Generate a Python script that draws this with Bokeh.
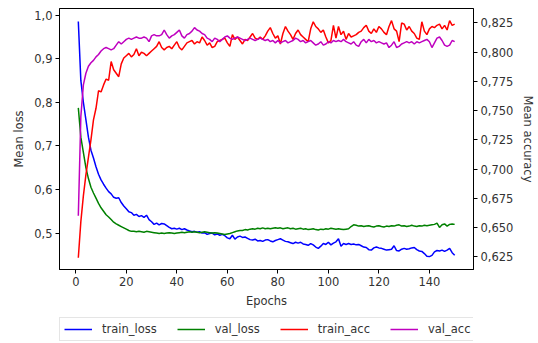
from bokeh.plotting import figure
from bokeh.layouts import column
from bokeh.models import (Range1d, LinearAxis, FixedTicker, CustomJSTickFormatter,
                          Legend, LegendItem)
from bokeh.embed import file_html
from bokeh.resources import INLINE

epochs = list(range(1, 151))

train_loss = [
    0.985, 0.850, 0.800, 0.760, 0.720, 0.690, 0.672, 0.652, 0.635, 0.622,
    0.612, 0.603, 0.595, 0.590, 0.582, 0.580, 0.581, 0.570, 0.562, 0.556,
    0.549, 0.547, 0.541, 0.543, 0.538, 0.540, 0.536, 0.541, 0.531, 0.526,
    0.520, 0.523, 0.519, 0.522, 0.521, 0.517, 0.513, 0.510, 0.511, 0.509,
    0.511, 0.508, 0.510, 0.507, 0.505, 0.503, 0.504, 0.502, 0.503, 0.500,
    0.501, 0.497, 0.499, 0.500, 0.496, 0.498, 0.495, 0.497, 0.494, 0.489,
    0.487, 0.495, 0.486, 0.491, 0.493, 0.490, 0.491, 0.488, 0.485, 0.484,
    0.486, 0.482, 0.483, 0.481, 0.484, 0.485, 0.482, 0.480, 0.483, 0.485,
    0.487, 0.484, 0.481, 0.480, 0.478, 0.476, 0.479, 0.477, 0.479, 0.475,
    0.474, 0.472, 0.476, 0.473, 0.468, 0.465, 0.470, 0.476, 0.474, 0.479,
    0.473, 0.477, 0.480, 0.487, 0.470, 0.476, 0.474, 0.476, 0.474, 0.475,
    0.473, 0.474, 0.471, 0.468, 0.467, 0.462, 0.461, 0.466, 0.468, 0.466,
    0.465, 0.463, 0.461, 0.462, 0.463, 0.471, 0.460, 0.459, 0.463, 0.465,
    0.463, 0.464, 0.466, 0.467, 0.462, 0.459, 0.458, 0.453, 0.447, 0.446,
    0.449, 0.457, 0.460, 0.459, 0.461, 0.458, 0.461, 0.465, 0.455, 0.449,
]

val_loss = [
    0.787, 0.720, 0.685, 0.650, 0.625, 0.605, 0.592, 0.580, 0.568, 0.558,
    0.550, 0.542, 0.537, 0.531, 0.525, 0.521, 0.518, 0.515, 0.512, 0.509,
    0.506, 0.504, 0.504, 0.503, 0.504, 0.503, 0.502, 0.504, 0.503, 0.502,
    0.501, 0.500, 0.499, 0.500, 0.499, 0.500, 0.501, 0.500, 0.499, 0.500,
    0.501, 0.502, 0.501, 0.502, 0.503, 0.502, 0.503, 0.502, 0.501, 0.502,
    0.503, 0.502, 0.501, 0.500, 0.501, 0.500, 0.499, 0.498, 0.497, 0.498,
    0.499, 0.501, 0.503, 0.505, 0.506, 0.506, 0.508, 0.507, 0.509, 0.510,
    0.509, 0.511, 0.510, 0.512, 0.510, 0.511, 0.510, 0.511, 0.512, 0.511,
    0.512, 0.510, 0.511, 0.512, 0.510, 0.511, 0.509, 0.510, 0.511, 0.509,
    0.510, 0.508, 0.509, 0.510, 0.508, 0.507, 0.509, 0.508, 0.510, 0.509,
    0.511, 0.510, 0.509, 0.510, 0.509, 0.508, 0.509, 0.510, 0.515, 0.519,
    0.518, 0.516, 0.517, 0.515, 0.516, 0.517, 0.515, 0.514, 0.516, 0.517,
    0.515, 0.514, 0.516, 0.515, 0.517, 0.516, 0.518, 0.519, 0.516, 0.517,
    0.515, 0.516, 0.518, 0.516, 0.515, 0.517, 0.516, 0.518, 0.517, 0.518,
    0.519, 0.520, 0.523, 0.513, 0.519, 0.521, 0.516, 0.520, 0.521, 0.520,
]

train_acc = [
    0.624, 0.655, 0.677, 0.695, 0.710, 0.725, 0.742, 0.752, 0.767, 0.766,
    0.772, 0.777, 0.776, 0.792, 0.785, 0.782, 0.779, 0.790, 0.795, 0.797,
    0.799, 0.796, 0.798, 0.803, 0.797, 0.800, 0.799, 0.797, 0.799, 0.801,
    0.803, 0.805, 0.809, 0.804, 0.802, 0.804, 0.805, 0.803, 0.806, 0.809,
    0.804, 0.802, 0.805, 0.808, 0.809, 0.810, 0.807, 0.809, 0.808, 0.813,
    0.810, 0.806, 0.808, 0.804, 0.805, 0.809, 0.810, 0.811, 0.812, 0.808,
    0.805, 0.815, 0.811, 0.813, 0.810, 0.807, 0.811, 0.810, 0.813, 0.816,
    0.812, 0.811, 0.813, 0.811, 0.814, 0.818, 0.821, 0.816, 0.812, 0.814,
    0.807, 0.816, 0.822, 0.818, 0.815, 0.811, 0.816, 0.819, 0.815, 0.813,
    0.811, 0.809, 0.820, 0.826, 0.822, 0.820, 0.817, 0.819, 0.813, 0.808,
    0.810, 0.823, 0.812, 0.822, 0.815, 0.818, 0.811, 0.816, 0.813, 0.814,
    0.815, 0.817, 0.818, 0.821, 0.823, 0.818, 0.816, 0.820, 0.817, 0.822,
    0.820, 0.817, 0.815, 0.822, 0.827, 0.820, 0.818, 0.809, 0.825, 0.824,
    0.819, 0.822, 0.818, 0.816, 0.812, 0.811, 0.826, 0.818, 0.815, 0.820,
    0.822, 0.821, 0.823, 0.824, 0.820, 0.823, 0.819, 0.827, 0.823, 0.824,
]

val_acc = [
    0.660, 0.745, 0.772, 0.782, 0.788, 0.791, 0.793, 0.796, 0.798, 0.801,
    0.803, 0.804, 0.803, 0.802, 0.803, 0.806, 0.809, 0.807, 0.809, 0.811,
    0.812, 0.811, 0.812, 0.813, 0.812, 0.812, 0.813, 0.812, 0.809, 0.814,
    0.815, 0.814, 0.814, 0.815, 0.819, 0.815, 0.812, 0.814, 0.815, 0.817,
    0.819, 0.814, 0.812, 0.815, 0.816, 0.818, 0.821, 0.819, 0.818, 0.816,
    0.815, 0.812, 0.811, 0.809, 0.812, 0.811, 0.809, 0.811, 0.813, 0.814,
    0.812, 0.811, 0.812, 0.813, 0.812, 0.811, 0.810, 0.811, 0.812, 0.811,
    0.810, 0.811, 0.812, 0.811, 0.810, 0.811, 0.809, 0.810, 0.808, 0.810,
    0.808, 0.809, 0.810, 0.808, 0.809, 0.810, 0.812, 0.811, 0.809, 0.810,
    0.808, 0.809, 0.810, 0.808, 0.806, 0.807, 0.809, 0.806, 0.807, 0.809,
    0.808, 0.810, 0.809, 0.810, 0.809, 0.811, 0.809, 0.808, 0.807, 0.809,
    0.806, 0.805, 0.809, 0.811, 0.808, 0.811, 0.809, 0.810, 0.808, 0.809,
    0.808, 0.807, 0.808, 0.804, 0.806, 0.809, 0.804, 0.805, 0.807, 0.808,
    0.809, 0.808, 0.809, 0.807, 0.809, 0.808, 0.809, 0.810, 0.811, 0.809,
    0.804, 0.808, 0.812, 0.813, 0.810, 0.806, 0.805, 0.806, 0.810, 0.809,
]

series = [train_loss, val_loss, train_acc, val_acc]
series_names = ["train_loss", "val_loss", "train_acc", "val_acc"]
series_colors = ["#0000ff", "#008000", "#ff0000", "#bf00bf"]

x_ticks = [0, 20, 40, 60, 80, 100, 120, 140]
loss_ticks = [0.5, 0.6, 0.7, 0.8, 0.9, 1.0]
acc_ticks = [0.625, 0.650, 0.675, 0.700, 0.725, 0.750, 0.775, 0.800, 0.825]

FONT = "DejaVu Sans"
TXT = "#333333"
FS = "11.5px"

p = figure(width=538, height=310, output_backend="svg", toolbar_location=None,
           x_range=Range1d(-6.45, 157.45), y_range=Range1d(0.4165, 1.015),
           min_border_left=59, min_border_right=62, min_border_top=8,
           min_border_bottom=37)
p.extra_y_ranges = {"acc": Range1d(0.614, 0.8374)}
p.outline_line_color = "black"
p.outline_line_width = 1
p.xgrid.visible = False
p.ygrid.visible = False
p.background_fill_color = "white"
p.border_fill_color = "white"

p.line(epochs, train_loss, line_color=series_colors[0], line_width=1.5)
p.line(epochs, val_loss, line_color=series_colors[1], line_width=1.5)
p.line(epochs, train_acc, line_color=series_colors[2], line_width=1.5, y_range_name="acc")
p.line(epochs, val_acc, line_color=series_colors[3], line_width=1.5, y_range_name="acc")

right = LinearAxis(y_range_name="acc")
p.add_layout(right, "right")

p.xaxis.ticker = FixedTicker(ticks=x_ticks)
p.yaxis[0].ticker = FixedTicker(ticks=loss_ticks)
p.yaxis[0].formatter = CustomJSTickFormatter(code="return tick.toFixed(1).replace('.', ',');")
right.ticker = FixedTicker(ticks=acc_ticks)
right.formatter = CustomJSTickFormatter(code="return tick.toFixed(3).replace('.', ',');")

p.xaxis.axis_label = "Epochs"
p.yaxis[0].axis_label = "Mean loss"
right.axis_label = "Mean accuracy"

for ax in [p.xaxis[0], p.yaxis[0], right]:
    ax.axis_line_color = "black"
    ax.major_tick_line_color = "black"
    ax.major_tick_out = 4
    ax.major_tick_in = 0
    ax.minor_tick_line_color = None
    ax.major_label_text_font = FONT
    ax.major_label_text_font_size = FS
    ax.major_label_text_color = TXT
    ax.axis_label_text_font = FONT
    ax.axis_label_text_font_size = FS
    ax.axis_label_text_font_style = "normal"
    ax.axis_label_text_color = TXT
    ax.major_label_standoff = 3
    ax.axis_label_standoff = 5

# legend strip below the chart (its own lines are kept out of its view)
p2 = figure(width=538, height=33, output_backend="svg", toolbar_location=None,
            x_range=Range1d(1000, 1001), y_range=Range1d(10, 11), min_border=0)
p2.axis.visible = False
p2.grid.visible = False
p2.outline_line_color = None
p2.background_fill_color = "white"
p2.border_fill_color = "white"
items = []
for name, col, data in zip(series_names, series_colors, series):
    r = p2.line(epochs, data, line_color=col, line_width=1.5)
    items.append(LegendItem(label=name, renderers=[r]))

legend = Legend(items=items, orientation="horizontal", location=(0, 2))
legend.label_text_font = FONT
legend.label_text_font_size = FS
legend.label_text_color = TXT
legend.glyph_width = 28
legend.glyph_height = 12
legend.label_height = 12
legend.label_standoff = 10
legend.spacing = 20
legend.padding = 4
legend.margin = 0
legend.border_line_color = "#cccccc"
legend.border_line_width = 1
legend.background_fill_alpha = 1.0
p2.add_layout(legend, "center")

open("out.html", "w").write(file_html(column(p, p2, spacing=0), INLINE))
